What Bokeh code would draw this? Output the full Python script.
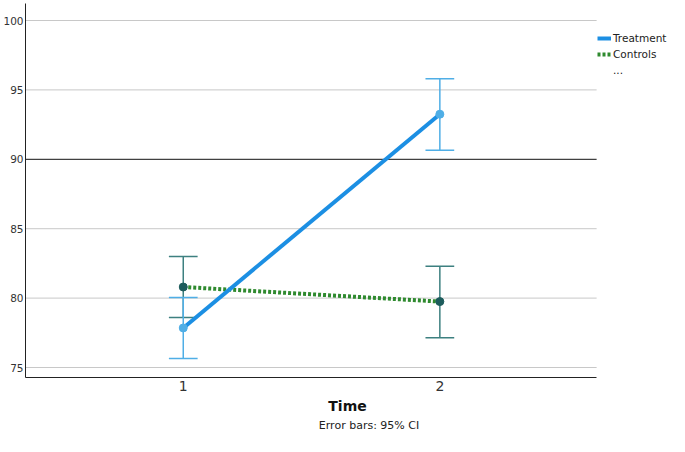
from bokeh.plotting import figure
from bokeh.models import Range1d, Legend, LegendItem, FixedTicker, LinearAxis
from bokeh.embed import file_html
from bokeh.resources import INLINE

times = [1, 2]
time_labels = {1: "1", 2: "2"}
treat_mean = [77.85, 93.25]
treat_low = [75.65, 90.65]
treat_high = [80.05, 95.8]
ctrl_mean = [80.8, 79.75]
ctrl_low = [78.6, 77.15]
ctrl_high = [83.0, 82.3]
y_ticks = [75, 80, 85, 90, 95, 100]
grid_values = [75, 80, 85, 95, 100]
ref_value = 90
note_text = "Error bars: 95% CI"

BLUE = "#1c8fe3"
BLUE_ERR = "#4faee6"
GREEN = "#2f8a2f"
TEAL = "#3d8080"
TEAL_DARK = "#1d5c5c"

X0, X1, XEND = 0.3852, 2.895, 2.611
p = figure(width=669, height=436, output_backend="svg", toolbar_location=None,
           x_range=Range1d(X0, X1), y_range=Range1d(74.28, 101.225),
           min_border_left=24, min_border_right=0, min_border_top=3, min_border_bottom=59)
p.outline_line_color = None
p.background_fill_color = "white"

# axes
p.yaxis.ticker = FixedTicker(ticks=y_ticks)
p.xaxis.ticker = FixedTicker(ticks=times)
p.xaxis.major_label_overrides = time_labels
p.xaxis.bounds = (X0, XEND)
for ax in (p.xaxis, p.yaxis):
    ax.major_tick_line_color = None
    ax.minor_tick_line_color = None
    ax.major_tick_out = 0
    ax.major_tick_in = 0
    ax.minor_tick_out = 0
    ax.axis_line_color = "#222222"
    ax.axis_line_width = 1
    ax.major_label_text_color = "#333333"
    ax.major_label_text_font = "DejaVu Sans"
p.yaxis.major_label_text_font_size = "10.5px"
p.yaxis.major_label_standoff = 2
p.xaxis.major_label_text_font_size = "14px"
p.xaxis.major_label_standoff = 3
p.xaxis.axis_label = "Time"
p.xaxis.axis_label_text_font = "DejaVu Sans"
p.xaxis.axis_label_text_font_style = "bold"
p.xaxis.axis_label_text_font_size = "14px"
p.xaxis.axis_label_text_color = "#111111"
p.xaxis.axis_label_standoff = 4

note_pos = 1.724
note_axis = LinearAxis(ticker=FixedTicker(ticks=[note_pos]),
                       major_label_overrides={note_pos: note_text},
                       axis_line_color=None, major_tick_line_color=None,
                       minor_tick_line_color=None, major_tick_out=0, major_tick_in=0,
                       minor_tick_out=0, major_label_standoff=2,
                       major_label_text_font="DejaVu Sans",
                       major_label_text_font_size="11px",
                       major_label_text_color="#222222")
p.add_layout(note_axis, "below")

p.xgrid.grid_line_color = None
p.ygrid.grid_line_color = None

# horizontal grid lines and reference line, ending at the plot's right edge
p.segment(x0=[X0] * len(grid_values), x1=[XEND] * len(grid_values),
          y0=grid_values, y1=grid_values, line_color="#c8c8c8", line_width=1)
p.segment(x0=[X0], x1=[XEND], y0=[ref_value], y1=[ref_value], line_color="#111111", line_width=1)

cap = 0.056
# control error bars
p.segment(x0=times, x1=times, y0=ctrl_low, y1=ctrl_high, line_color=TEAL, line_width=1.5)
p.segment(x0=[t - cap for t in times], x1=[t + cap for t in times], y0=ctrl_low, y1=ctrl_low,
          line_color=TEAL, line_width=1.5)
p.segment(x0=[t - cap for t in times], x1=[t + cap for t in times], y0=ctrl_high, y1=ctrl_high,
          line_color=TEAL, line_width=1.5)
# treatment error bars
p.segment(x0=times, x1=times, y0=treat_low, y1=treat_high, line_color=BLUE_ERR, line_width=1.5)
p.segment(x0=[t - cap for t in times], x1=[t + cap for t in times], y0=treat_low, y1=treat_low,
          line_color=BLUE_ERR, line_width=1.5)
p.segment(x0=[t - cap for t in times], x1=[t + cap for t in times], y0=treat_high, y1=treat_high,
          line_color=BLUE_ERR, line_width=1.5)

ctrl_line = p.line(times, ctrl_mean, line_color=GREEN, line_width=4, line_dash="3 2")
treat_line = p.line(times, treat_mean, line_color=BLUE, line_width=4)
p.scatter(times, ctrl_mean, size=8, fill_color=TEAL_DARK, line_color=TEAL_DARK)
p.scatter(times, treat_mean, size=8, fill_color=BLUE_ERR, line_color=BLUE_ERR)
dummy = p.line([1, 1], [80, 80], line_alpha=0)

legend = Legend(items=[LegendItem(label="Treatment", renderers=[treat_line]),
                       LegendItem(label="Controls", renderers=[ctrl_line]),
                       LegendItem(label="...", renderers=[dummy])],
                location=(572, 300))
legend.background_fill_alpha = 0
legend.border_line_color = None
legend.label_text_font = "DejaVu Sans"
legend.label_text_font_size = "10.5px"
legend.label_text_color = "#222222"
legend.glyph_width = 14
legend.glyph_height = 14
legend.label_height = 14
legend.label_standoff = 2
legend.spacing = 2
legend.padding = 0
legend.margin = 0
p.add_layout(legend)

open("out.html", "w").write(file_html(p, INLINE))
